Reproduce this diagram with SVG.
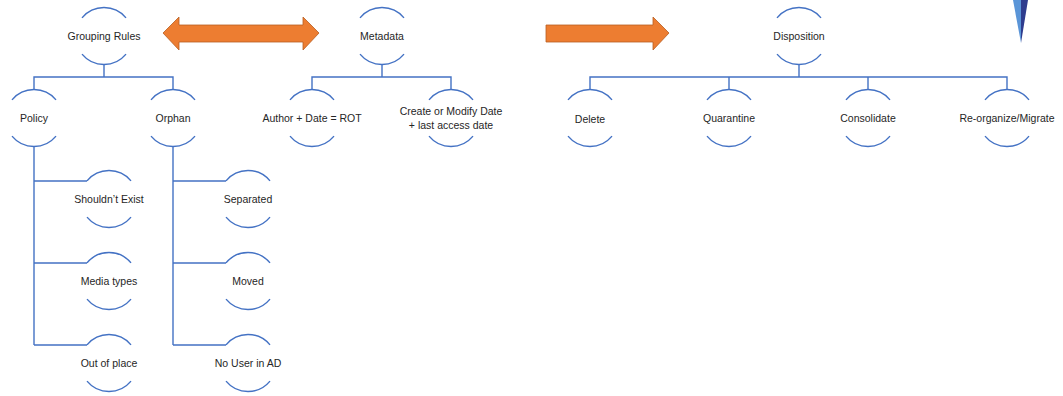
<svg xmlns="http://www.w3.org/2000/svg" width="1063" height="396" viewBox="0 0 1063 396">
  <style>
    .arc { fill: none; stroke: #4472C4; stroke-width: 1.4; }
    .link { fill: none; stroke: #4472C4; stroke-width: 1.4; }
    .lbl { font-family: "Liberation Sans", Arial, sans-serif; font-size: 10.5px; fill: #262626; text-anchor: middle; }
    .flow { fill: #ED7D31; stroke: #B85E22; stroke-width: 0.8; }
  </style>
  <defs>
    <!-- open node outline: top and bottom arcs of a r=28.5 circle centred on (0,0) -->
    <g id="ring">
      <path class="arc" d="M-22 -18.1 A28.5 28.5 0 0 1 22 -18.1"/>
      <path class="arc" d="M-22 18.1 A28.5 28.5 0 0 0 22 18.1"/>
    </g>
  </defs>

  <rect width="1063" height="396" fill="#FFFFFF"/>

  <!-- corner spike -->
  <polygon points="1013,0 1021,0 1021,43" fill="#5A95D8"/>
  <polygon points="1021,0 1028,0 1021,43" fill="#2E3C8E"/>

  <!-- flow arrows -->
  <path class="flow" d="M163 33 L179 17 L179 25 L303 25 L303 17 L319 33 L303 50 L303 42 L179 42 L179 50 Z"/>
  <path class="flow" d="M546 25 L653 25 L653 17 L669 33 L653 50 L653 42 L546 42 Z"/>

  <!-- connectors -->
  <g id="connectors">
    <path class="link" d="M104 64.5 V77 M34 89.5 V77 H173 V89.5"/>
    <path class="link" d="M34 146.5 V345 M34 181 H87 M34 263 H87 M34 345 H87"/>
    <path class="link" d="M173 146.5 V345 M173 181 H226 M173 263 H226 M173 345 H226"/>
    <path class="link" d="M382 64.5 V77 M312 89.5 V77 H451 V89.5"/>
    <path class="link" d="M799 64.5 V77 M590 89.5 V77 H1007 V89.5 M729 77 V89.5 M868 77 V89.5"/>
  </g>

  <!-- grouping rules tree -->
  <g id="grouping-rules"><use href="#ring" x="104" y="36"/><text class="lbl" x="104" y="40">Grouping Rules</text></g>
  <g id="policy"><use href="#ring" x="34" y="118"/><text class="lbl" x="34" y="122">Policy</text></g>
  <g id="orphan"><use href="#ring" x="173" y="118"/><text class="lbl" x="173" y="122">Orphan</text></g>
  <g id="shouldnt-exist"><use href="#ring" x="109" y="199"/><text class="lbl" x="109" y="203">Shouldn’t Exist</text></g>
  <g id="media-types"><use href="#ring" x="109" y="281"/><text class="lbl" x="109" y="285">Media types</text></g>
  <g id="out-of-place"><use href="#ring" x="109" y="363"/><text class="lbl" x="109" y="367">Out of place</text></g>
  <g id="separated"><use href="#ring" x="248" y="199"/><text class="lbl" x="248" y="203">Separated</text></g>
  <g id="moved"><use href="#ring" x="248" y="281"/><text class="lbl" x="248" y="285">Moved</text></g>
  <g id="no-user-in-ad"><use href="#ring" x="248" y="363"/><text class="lbl" x="248" y="367">No User in AD</text></g>

  <!-- metadata tree -->
  <g id="metadata"><use href="#ring" x="382" y="36"/><text class="lbl" x="382" y="40">Metadata</text></g>
  <g id="author-date"><use href="#ring" x="312" y="118"/><text class="lbl" x="312" y="122">Author + Date = ROT</text></g>
  <g id="create-modify"><use href="#ring" x="451" y="118"/><text class="lbl" x="451" y="115">Create or Modify Date</text><text class="lbl" x="451" y="129">+ last access date</text></g>

  <!-- disposition tree -->
  <g id="disposition"><use href="#ring" x="799" y="36"/><text class="lbl" x="799" y="40">Disposition</text></g>
  <g id="delete"><use href="#ring" x="590" y="118"/><text class="lbl" x="590" y="123">Delete</text></g>
  <g id="quarantine"><use href="#ring" x="729" y="118"/><text class="lbl" x="729" y="122">Quarantine</text></g>
  <g id="consolidate"><use href="#ring" x="868" y="118"/><text class="lbl" x="868" y="122">Consolidate</text></g>
  <g id="reorganize-migrate"><use href="#ring" x="1007" y="118"/><text class="lbl" x="1007" y="122">Re-organize/Migrate</text></g>
</svg>
